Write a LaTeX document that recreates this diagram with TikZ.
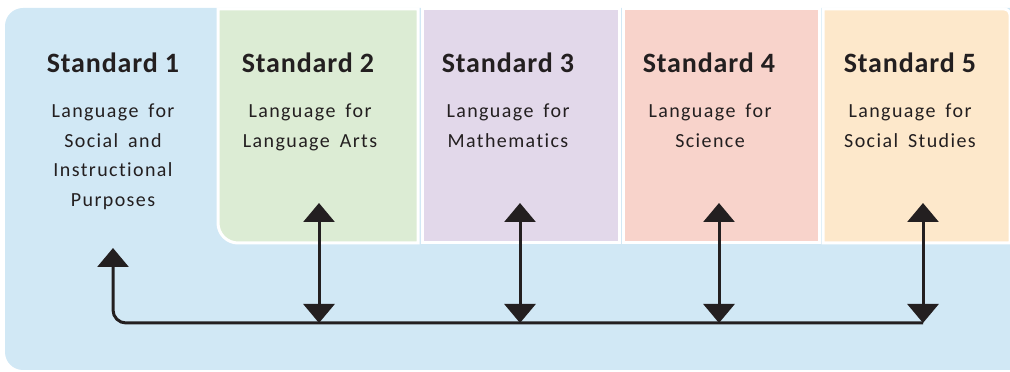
\documentclass[tikz,border=0pt]{standalone}
\usepackage{fontspec}
\setmainfont{Carlito}
\newfontfamily\stdspaced[LetterSpace=7, Ligatures=NoCommon]{Carlito}
\newfontfamily\stdbold[LetterSpace=3, Ligatures=NoCommon]{Carlito}
\usetikzlibrary{arrows.meta}
\definecolor{stdblue}{RGB}{209,232,245}
\definecolor{stdgreen}{RGB}{220,236,212}
\definecolor{stdpurple}{RGB}{226,216,234}
\definecolor{stdred}{RGB}{248,211,203}
\definecolor{stdorange}{RGB}{253,232,203}
\definecolor{stdink}{RGB}{35,31,32}
\tikzset{
  stdbox/.style={draw=white, line width=3pt},
  stdtitle/.style={anchor=base, inner sep=0pt, text=stdink, font=\stdbold\fontsize{28}{30}\selectfont\bfseries},
  stdtext/.style={anchor=north, inner sep=0pt, align=center, text=stdink, font=\stdspaced\fontsize{20}{29.5}\selectfont},
  link/.style={draw=stdink, line width=3pt, {Triangle[width=31pt, length=19pt]}-{Triangle[width=31pt, length=19pt]}}
}
\begin{document}
\begin{tikzpicture}[x=1pt, y=1pt]
\useasboundingbox (0,0) rectangle (1010,372);

% background and the four boxes
\fill[stdblue, rounded corners=18pt] (1012,2) -- (5,2) -- (5,364) -- (1012,364);
\filldraw[stdbox, fill=stdgreen] (418,363) -- (218,363) -- (218,149) arc[start angle=180, end angle=270, radius=20] -- (418,129) -- cycle;
\filldraw[stdbox, fill=stdpurple] (422,129) rectangle (619,363);
\filldraw[stdbox, fill=stdred] (623,129) rectangle (819,363);
\filldraw[stdbox, fill=stdorange] (823,129) -- (823,363) -- (1004,363) arc[start angle=90, end angle=0, radius=6] -- (1010,129) -- cycle;

% titles
\node[stdtitle] (s1) at (113,299) {Standard 1};
\node[stdtitle] (s2) at (308,299) {Standard 2};
\node[stdtitle] (s3) at (508,299) {Standard 3};
\node[stdtitle] (s4) at (709,299) {Standard 4};
\node[stdtitle] (s5) at (910,299) {Standard 5};

% descriptions
\node[stdtext] (d1) at (113,268) {Language\enspace for\\Social\enspace and\\Instructional\\Purposes};
\node[stdtext] (d2) at (310,268) {Language\enspace for\\Language\enspace Arts};
\node[stdtext] (d3) at (508,268) {Language\enspace for\\Mathematics};
\node[stdtext] (d4) at (710,268) {Language\enspace for\\Science};
\node[stdtext] (d5) at (910,268) {Language\enspace for\\Social\enspace Studies};

% arrow ends
\coordinate (t1) at (113,124);
\coordinate (c1) at (113,49);
\coordinate (t2) at (319,169);
\coordinate (b2) at (319,49);
\coordinate (t3) at (520,169);
\coordinate (b3) at (520,49);
\coordinate (t4) at (719,169);
\coordinate (b4) at (719,49);
\coordinate (t5) at (923,169);
\coordinate (b5) at (923,49);

% links
\draw[stdink, line width=3pt, rounded corners=13pt, -{Triangle[width=31pt, length=19pt]}] (b5) -- (c1) -- (t1);
\draw[link] (t2) -- (b2);
\draw[link] (t3) -- (b3);
\draw[link] (t4) -- (b4);
\draw[link] (t5) -- (b5);
\end{tikzpicture}
\end{document}
